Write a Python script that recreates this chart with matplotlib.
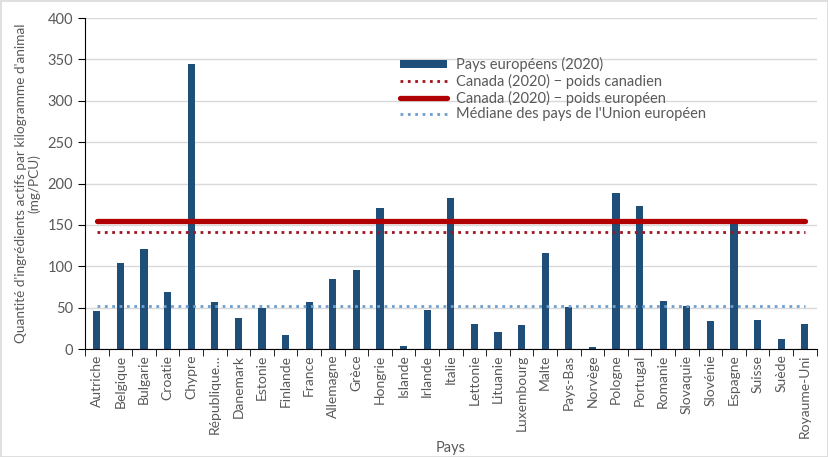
import matplotlib.pyplot as plt
import numpy as np
from matplotlib.patches import Rectangle

plt.rcParams['font.family'] = ['Lato', 'DejaVu Sans']

pays = ["Autriche", "Belgique", "Bulgarie", "Croatie", "Chypre", "République…",
        "Danemark", "Estonie", "Finlande", "France", "Allemagne", "Grèce",
        "Hongrie", "Islande", "Irlande", "Italie", "Lettonie", "Lituanie",
        "Luxembourg", "Malte", "Pays-Bas", "Norvège", "Pologne", "Portugal",
        "Romanie", "Slovaquie", "Slovénie", "Espagne", "Suisse", "Suède",
        "Royaume-Uni"]
valeurs_2020 = [46, 104, 121, 69, 344, 57,
                37, 49, 17, 57, 84, 96,
                170, 4, 47, 182, 30, 20,
                29, 116, 51, 2, 188, 173,
                58, 52, 34, 155, 35, 12,
                30]
canada_poids_canadien = 142
canada_poids_europeen = 155
mediane_ue = 52

texte = "#595959"
bleu = "#1F4E79"

fig = plt.figure(figsize=(8.29, 4.57), dpi=100)
ax = fig.add_axes([0.1025, 0.2363, 0.8825, 0.7243])

x = np.arange(len(pays))
barres = ax.bar(x, valeurs_2020, width=0.3, color=bleu, label="Pays européens (2020)", zorder=2)
l1, = ax.plot(x, [canada_poids_canadien] * len(x), color="#A0141E", lw=2, ls=":",
              label="Canada (2020) \u2212 poids canadien", zorder=3)
l2, = ax.plot(x, [canada_poids_europeen] * len(x), color="#B00000", lw=3.8,
              solid_capstyle="round", label="Canada (2020) \u2212 poids européen", zorder=3)
l3, = ax.plot(x, [mediane_ue] * len(x), color="#6E9FCF", lw=2, ls=":",
              label="Médiane des pays de l'Union européen", zorder=3)

ax.set_xlim(-0.5, len(pays) - 0.5)
ax.set_ylim(0, 400)
ax.set_yticks(np.arange(0, 401, 50))
ax.yaxis.grid(True, color="#D9D9D9", lw=1, zorder=0)
ax.set_axisbelow(True)

ax.set_xticks(x)
ax.set_xticklabels(pays, rotation=90, fontsize=10, color=texte)
ax.set_xticks(np.arange(-0.5, len(pays), 1), minor=True)
ax.tick_params(axis="x", which="major", length=0, pad=4)
ax.tick_params(axis="x", which="minor", length=5, color="black", direction="out")
ax.tick_params(axis="y", length=5, color="black", labelsize=10.5, labelcolor=texte)

for s in ["top", "right"]:
    ax.spines[s].set_visible(False)
ax.spines["left"].set_color("black")
ax.spines["bottom"].set_color("black")

ax.set_ylabel("Quantité d'ingrédients actifs par kilogramme d'animal\n(mg/PCU)",
              fontsize=9.8, color=texte, linespacing=1.1, labelpad=5)
ax.set_xlabel("Pays", fontsize=10.5, color=texte, labelpad=2)

leg = ax.legend(handles=[barres, l1, l2, l3], loc="upper left",
                bbox_to_anchor=(0.423, 0.9), frameon=False,
                fontsize=10.5, handlelength=3.2, handleheight=0.45,
                labelspacing=0.12, handletextpad=0.6, borderaxespad=0)
for t in leg.get_texts():
    t.set_color(texte)

fig.patches.append(Rectangle((0.001, 0.001), 0.998, 0.997, transform=fig.transFigure,
                             fill=False, edgecolor="#D9D9D9", lw=1.2))

fig.savefig("out.png", dpi=100)
